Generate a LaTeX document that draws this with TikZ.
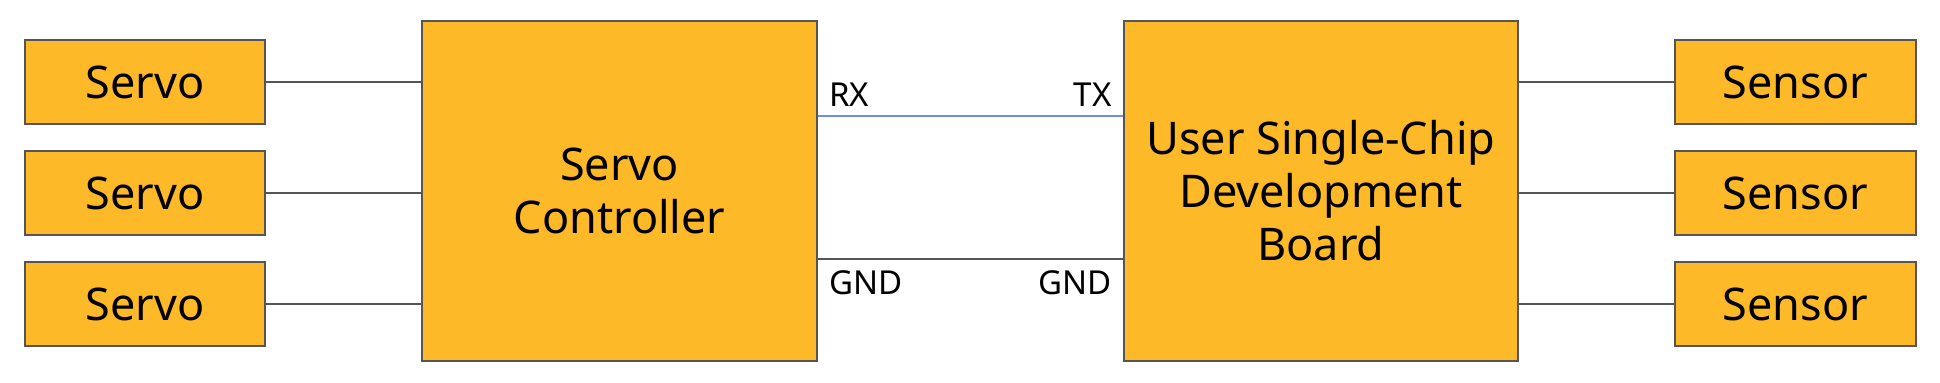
\documentclass[tikz,border=0pt]{standalone}
\usepackage{fontspec}
\setmainfont{Noto Sans}
\definecolor{boxfill}{HTML}{FDB927}
\definecolor{boxline}{HTML}{555555}
\definecolor{rxline}{HTML}{6F8CEB}
\tikzset{
  blk/.style={draw=boxline, fill=boxfill, line width=0.6pt, inner sep=0pt, align=center,
    font=\fontsize{22.5}{26.5}\selectfont},
  wire/.style={draw=boxline, line width=0.6pt},
  pin/.style={inner sep=0pt, font=\fontsize{16.5}{18}\selectfont},
}
\begin{document}
\begin{tikzpicture}[x=0.5pt,y=-0.5pt]
\useasboundingbox (0,0) rectangle (1940,383);
% servos
\node[blk, minimum width=120pt, minimum height=42pt] (s1) at (145,82) {Servo};
\node[blk, minimum width=120pt, minimum height=42pt] (s2) at (145,193) {Servo};
\node[blk, minimum width=120pt, minimum height=42pt] (s3) at (145,304) {Servo};
% controller
\node[blk, minimum width=197.5pt, minimum height=170pt] (ctl) at (619.5,191) {Servo\\Controller};
% board
\node[blk, minimum width=197pt, minimum height=170pt] (brd) at (1321,191) {User Single-Chip\\Development\\Board};
% sensors
\node[blk, minimum width=120.5pt, minimum height=42pt] (n1) at (1795.5,82) {Sensor};
\node[blk, minimum width=120.5pt, minimum height=42pt] (n2) at (1795.5,193) {Sensor};
\node[blk, minimum width=120.5pt, minimum height=42pt] (n3) at (1795.5,304) {Sensor};
% wires
\draw[wire] (s1.east) -- (s1.east -| ctl.west);
\draw[wire] (s2.east) -- (s2.east -| ctl.west);
\draw[wire] (s3.east) -- (s3.east -| ctl.west);
\draw[wire] (n1.west) -- (n1.west -| brd.east);
\draw[wire] (n2.west) -- (n2.west -| brd.east);
\draw[wire] (n3.west) -- (n3.west -| brd.east);
\coordinate (rxa) at (ctl.east |- 0,116);
\coordinate (rxb) at (brd.west |- 0,116);
\coordinate (gna) at (ctl.east |- 0,259);
\coordinate (gnb) at (brd.west |- 0,259);
\draw[draw=rxline, line width=0.6pt] (rxa) -- (rxb);
\draw[wire] (gna) -- (gnb);
\node[pin, anchor=base west] (rx) at (829,107) {RX};
\node[pin, anchor=base east] (tx) at (1112,107) {TX};
\node[pin, anchor=base west] (g1) at (829,295) {GND};
\node[pin, anchor=base east] (g2) at (1112,295) {GND};
\end{tikzpicture}
\end{document}
